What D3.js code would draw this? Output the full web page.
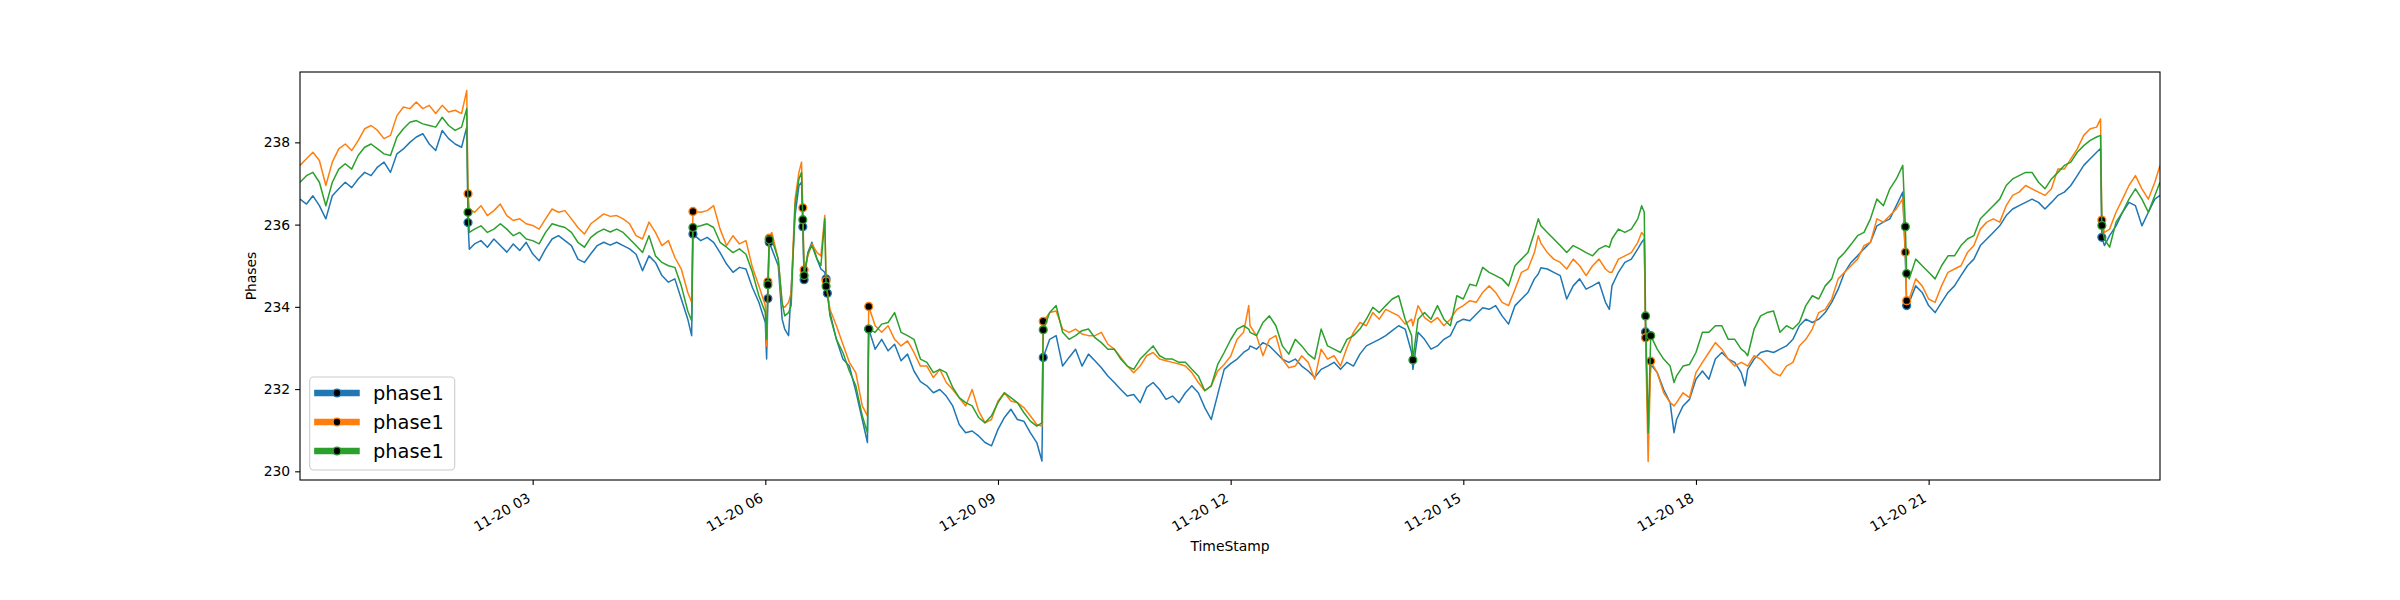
<!DOCTYPE html>
<html>
<head>
<meta charset="utf-8">
<script src="https://cdn.jsdelivr.net/npm/d3@7"></script>
<style>
  html, body { margin: 0; padding: 0; background: #fff; }
  svg { display: block; font-family: "DejaVu Sans", sans-serif; }
</style>
</head>
<body>
<svg id="chart" width="2400" height="600"></svg>
<script>
// minutes after 11-20 00:00, shared by the three series
const minutes = [
  0,5,10,15,20,25,30,35,40,45,50,55,60,65,70,75,80,85,90,95,100,105,110,115,120,125,129,130,131,135,140,145,150,155,160,165,170,175,180,185,190,195,200,205,210,215,220,225,230,235,240,
  245,250,255,260,265,270,275,280,285,290,295,300,303,304,310,315,320,325,330,335,340,345,350,355,360,361,362,363,365,370,373,375,378,380,383,386,388,389,390,393,396,400,403,406,407,408,410,415,420,425,430,435,439,440,445,450,455,460,465,470,475,480,
  485,490,495,500,505,510,515,520,525,530,535,540,545,550,555,560,565,570,574,575,580,585,590,595,600,605,610,615,620,625,630,635,640,645,650,655,660,665,670,675,680,685,690,695,700,705,710,715,720,
  725,730,734,735,740,745,750,755,760,765,770,775,780,785,790,795,800,805,810,815,820,825,830,835,840,845,850,855,860,861,865,870,875,880,885,890,895,900,905,910,915,920,925,930,935,940,945,950,955,958,960,
  965,970,975,980,985,990,995,1000,1005,1010,1013,1015,1020,1025,1030,1035,1038,1040,1041,1043,1045,1050,1055,1060,1063,1065,1070,1075,1080,1085,1090,1095,1100,1105,1110,1115,1118,1120,1125,1130,1135,1140,1145,1150,1155,1160,1165,1170,1175,1180,1185,1190,1195,1200,
  1205,1210,1215,1220,1225,1230,1235,1240,1242,1243,1245,1250,1255,1260,1265,1270,1275,1280,1285,1290,1295,1300,1305,1310,1315,1320,1325,1330,1335,1340,1345,1350,1355,1360,1365,1370,1375,1380,1385,1390,1393,1394,1396,1400,1405,1410,1415,1420,1425,1430,1435,1439
];

const phaseBlue = [
  236.62,236.50,236.70,236.46,236.14,236.70,236.87,237.03,236.90,237.11,237.27,237.19,237.40,237.52,237.27,237.72,237.84,238.00,238.13,238.21,237.96,237.80,238.29,238.09,237.96,237.88,238.37,236.05,235.40,235.53,235.61,235.45,235.65,235.49,235.33,235.53,235.37,235.57,235.29,235.12,235.41,235.65,235.73,235.61,235.49,235.16,235.08,235.29,235.49,235.57,235.50,
  235.57,235.49,235.41,235.28,234.88,235.24,235.08,234.76,234.60,234.68,234.19,233.70,233.30,235.77,235.61,235.69,235.57,235.32,235.04,234.84,234.96,234.92,234.47,234.11,233.62,232.73,234.20,235.57,235.41,235.00,233.70,233.46,233.30,234.43,236.22,236.95,237.03,235.95,234.66,235.32,235.57,235.16,234.92,234.84,234.68,234.33,233.86,233.21,232.73,232.56,231.95,231.26,230.70,233.46,232.97,233.21,232.93,233.09,232.69,232.85,232.44,232.18,
  232.08,231.91,231.99,231.83,231.59,231.14,230.94,230.98,230.86,230.70,230.62,231.02,231.31,231.51,231.26,231.22,230.94,230.70,230.25,232.77,233.21,233.30,232.56,232.77,232.97,232.56,232.85,232.69,232.52,232.32,232.16,231.99,231.83,231.87,231.67,232.04,232.16,231.99,231.75,231.83,231.67,231.91,232.08,231.91,231.55,231.26,231.87,232.48,232.62,
  232.73,232.89,232.97,233.05,232.97,233.13,233.05,232.89,232.73,232.65,232.73,232.56,232.44,232.28,232.48,232.56,232.65,232.48,232.65,232.56,232.85,233.05,233.13,233.21,233.30,233.42,233.54,233.46,232.89,232.48,233.38,233.21,232.97,233.05,233.21,233.30,233.62,233.70,233.66,233.82,233.98,233.94,234.03,233.78,233.58,234.03,234.19,234.35,234.68,234.80,234.95,
  234.92,234.84,234.76,234.19,234.51,234.68,234.43,234.51,234.60,234.11,233.94,234.51,234.84,235.08,235.16,235.41,235.57,235.65,233.39,231.10,232.60,232.40,231.99,231.67,230.94,231.26,231.59,231.75,232.24,232.44,232.24,232.73,232.89,232.73,232.65,232.40,232.08,232.48,232.73,232.89,232.93,232.89,232.97,233.05,233.21,233.54,233.70,233.62,233.70,233.86,234.11,234.43,234.84,235.08,
  235.24,235.41,235.57,235.97,236.06,236.14,236.46,236.79,235.16,234.03,234.11,234.51,234.35,234.03,233.86,234.11,234.35,234.51,234.76,235.00,235.16,235.49,235.65,235.81,235.97,236.22,236.38,236.46,236.54,236.62,236.54,236.38,236.54,236.71,236.79,236.95,237.19,237.44,237.60,237.76,237.85,235.69,235.49,235.73,235.97,236.30,236.54,236.46,235.97,236.30,236.62,236.71
];

const phaseOrange = [
  237.44,237.60,237.76,237.56,236.95,237.52,237.84,237.96,237.80,238.04,238.33,238.41,238.29,238.09,238.17,238.65,238.86,238.82,238.98,238.82,238.90,238.70,238.90,238.74,238.78,238.70,239.26,236.75,236.38,236.30,236.46,236.22,236.34,236.50,236.22,236.10,236.14,236.02,235.98,235.89,236.14,236.38,236.30,236.34,236.14,235.93,235.77,236.02,236.14,236.26,236.20,
  236.22,236.14,236.02,235.73,235.65,236.06,235.81,235.49,235.61,235.20,234.92,234.35,234.11,236.32,236.30,236.34,236.46,235.89,235.49,235.73,235.53,235.61,234.96,234.51,234.03,233.05,234.61,235.67,235.81,235.16,234.03,233.99,234.11,234.35,236.62,237.27,237.52,236.41,234.90,235.24,235.53,235.32,235.24,236.22,234.63,234.35,233.94,233.54,233.09,232.65,232.40,231.59,231.35,234.01,233.54,233.38,233.54,233.21,233.05,233.17,232.89,232.56,
  232.56,232.28,232.48,232.16,231.99,231.79,231.59,231.99,231.47,231.18,231.26,231.71,231.91,231.71,231.67,231.55,231.35,231.14,231.10,233.65,233.86,233.90,233.46,233.38,233.46,233.34,233.30,233.30,233.38,233.09,232.97,232.77,232.56,232.40,232.56,232.81,232.89,232.73,232.69,232.65,232.61,232.56,232.40,232.16,231.96,232.08,232.44,232.60,232.80,
  233.21,233.38,234.03,233.54,233.30,232.81,233.21,233.30,232.73,232.52,232.56,232.81,232.65,232.24,232.97,232.73,232.81,232.56,233.01,233.38,233.62,233.54,233.86,233.70,233.94,233.86,233.78,233.58,233.70,233.54,234.03,233.74,233.62,233.74,233.54,233.70,233.94,234.03,234.15,234.11,234.35,234.51,234.35,234.11,234.03,234.43,234.84,234.92,235.32,235.73,235.55,
  235.32,235.16,235.08,234.92,235.16,235.00,234.76,235.00,235.16,234.92,234.84,234.84,235.16,235.24,235.32,235.57,235.81,235.73,233.25,230.24,232.68,232.40,231.91,231.67,231.59,231.67,231.91,231.79,232.40,232.65,232.89,233.13,232.97,232.73,232.56,232.65,232.60,232.56,232.81,232.73,232.56,232.40,232.32,232.56,232.65,233.05,233.21,233.46,233.86,233.94,234.19,234.68,234.84,235.00,
  235.16,235.49,235.57,236.14,236.06,236.22,236.38,236.63,235.33,234.15,234.19,234.68,234.51,234.19,234.11,234.51,234.84,234.92,235.00,235.32,235.49,235.89,236.06,236.14,236.06,236.46,236.71,236.79,236.95,236.87,236.79,236.71,236.87,237.35,237.35,237.60,237.84,238.17,238.33,238.37,238.57,236.11,235.81,235.89,236.30,236.62,236.95,237.19,236.87,236.62,237.03,237.44
];

const phaseGreen = [
  237.03,237.19,237.27,237.03,236.46,237.03,237.35,237.48,237.35,237.68,237.88,237.96,237.84,237.72,237.68,238.13,238.33,238.49,238.53,238.45,238.41,238.37,238.61,238.41,238.29,238.37,238.82,236.30,235.81,235.89,235.97,235.81,235.89,236.02,235.89,235.73,235.81,235.65,235.61,235.53,235.81,236.02,235.97,235.93,235.81,235.57,235.45,235.69,235.81,235.89,235.82,
  235.89,235.81,235.65,235.49,235.32,235.73,235.24,235.08,235.00,234.96,234.51,233.90,233.66,235.93,235.97,236.02,235.93,235.57,235.45,235.32,235.41,235.28,234.84,234.27,233.86,233.21,234.54,235.63,235.65,235.16,234.11,233.78,233.86,234.03,236.46,237.11,237.27,236.12,234.76,235.32,235.49,235.16,235.00,236.14,234.50,234.35,233.78,233.21,232.89,232.44,232.08,231.35,230.94,233.46,233.38,233.58,233.62,233.86,233.38,233.30,233.21,232.73,
  232.65,232.40,232.48,232.40,232.04,231.79,231.67,231.59,231.31,231.18,231.35,231.67,231.91,231.79,231.67,231.43,231.22,231.10,231.18,233.44,233.86,234.03,233.38,233.21,233.30,233.42,233.46,233.25,233.13,232.97,232.97,232.73,232.56,232.48,232.73,232.89,233.05,232.81,232.73,232.73,232.65,232.65,232.48,232.32,231.96,232.08,232.60,232.89,233.20,
  233.46,233.54,233.46,233.38,233.30,233.62,233.78,233.54,233.05,232.85,233.21,233.05,232.85,232.73,233.46,233.05,232.97,232.89,233.21,233.30,233.46,233.70,233.99,233.86,234.03,234.19,234.27,233.70,233.30,232.71,233.70,233.86,233.70,234.03,233.70,233.54,234.27,234.19,234.55,234.51,234.96,234.84,234.76,234.68,234.51,235.00,235.16,235.32,235.81,236.14,235.97,
  235.81,235.65,235.49,235.32,235.49,235.41,235.32,235.24,235.41,235.49,235.45,235.65,235.89,235.81,235.89,236.14,236.46,236.30,233.78,230.94,233.30,232.97,232.73,232.56,232.16,232.32,232.56,232.60,232.89,233.38,233.38,233.54,233.54,233.21,233.21,232.97,232.90,232.81,233.46,233.78,233.86,233.90,233.38,233.54,233.46,233.62,234.03,234.27,234.19,234.51,234.68,235.16,235.32,235.52,
  235.73,235.81,236.14,236.62,236.46,236.87,237.11,237.44,235.95,234.81,234.68,235.16,235.00,234.84,234.68,235.00,235.24,235.24,235.49,235.65,235.73,236.14,236.30,236.46,236.62,236.95,237.11,237.19,237.27,237.27,237.03,236.87,237.11,237.27,237.44,237.52,237.76,237.92,238.05,238.13,238.17,235.98,235.65,235.45,236.06,236.30,236.62,236.87,236.62,236.30,236.71,237.03
];

// minutes of the points drawn with a marker, per series
const marksBlue = [130, 304, 362, 363, 389, 390, 407, 408, 440, 575, 1041, 1243, 1394];
const marksOrange = [130, 304, 362, 363, 389, 390, 407, 440, 575, 1041, 1045, 1242, 1243, 1394];
const marksGreen = [130, 304, 362, 363, 389, 390, 407, 440, 575, 861, 1041, 1045, 1242, 1243, 1394];

const seriesNames = ['phase1', 'phase1', 'phase1'];
const yTicks = [230, 232, 234, 236, 238];
const xTickHours = [3, 6, 9, 12, 15, 18, 21];

const svg = d3.select('#chart');
const plotLeft = 300, plotRight = 2160, plotTop = 72, plotBottom = 480;
const base = new Date(2019, 10, 20, 0, 0, 0);
const toDate = m => new Date(base.getTime() + m * 60000);

const series = [
  {name: seriesNames[0], color: '#1f77b4', values: phaseBlue, marks: marksBlue},
  {name: seriesNames[1], color: '#ff7f0e', values: phaseOrange, marks: marksOrange},
  {name: seriesNames[2], color: '#2ca02c', values: phaseGreen, marks: marksGreen}
];

// y limits like matplotlib autoscale (5% margin)
const ext = d3.extent(phaseBlue.concat(phaseOrange, phaseGreen));
const pad = (ext[1] - ext[0]) * 0.05;
const y = d3.scaleLinear().domain([ext[0] - pad, ext[1] + pad]).range([plotBottom, plotTop]);
const x = d3.scaleTime()
  .domain([toDate(minutes[0]), toDate(minutes[minutes.length - 1])])
  .range([plotLeft, plotRight]);

svg.append('defs').append('clipPath').attr('id', 'plot-clip')
  .append('rect').attr('x', plotLeft).attr('y', plotTop)
  .attr('width', plotRight - plotLeft).attr('height', plotBottom - plotTop);

const plot = svg.append('g');

series.forEach(s => {
  const n = Math.min(minutes.length, s.values.length);
  const idx = d3.range(n);
  const line = d3.line()
    .x(i => x(toDate(minutes[i])))
    .y(i => y(s.values[i]));

  plot.append('path')
    .datum(idx)
    .attr('clip-path', 'url(#plot-clip)')
    .attr('fill', 'none')
    .attr('stroke', s.color)
    .attr('stroke-width', 1.5)
    .attr('stroke-linejoin', 'round')
    .attr('d', line);

  const pts = s.marks.map(m => minutes.indexOf(m)).filter(i => i >= 0 && i < n);
  plot.selectAll(null)
    .data(pts)
    .enter()
    .append('circle')
      .attr('cx', i => x(toDate(minutes[i])))
      .attr('cy', i => y(s.values[i]))
      .attr('r', 3.9)
      .attr('fill', '#000')
      .attr('stroke', s.color)
      .attr('stroke-width', 1.4);
});

// frame
svg.append('rect')
  .attr('x', plotLeft).attr('y', plotTop)
  .attr('width', plotRight - plotLeft).attr('height', plotBottom - plotTop)
  .attr('fill', 'none').attr('stroke', '#000').attr('stroke-width', 1.1);

// x axis
const xAxis = d3.axisBottom(x)
  .tickValues(xTickHours.map(h => toDate(h * 60)))
  .tickFormat(d3.timeFormat('%m-%d %H'))
  .tickSizeInner(4.9).tickSizeOuter(0).tickPadding(4.9);

const gx = svg.append('g').attr('transform', `translate(0,${plotBottom})`).call(xAxis);
gx.select('.domain').remove();
gx.selectAll('.tick line').attr('stroke', '#000').attr('stroke-width', 1.1);
gx.selectAll('.tick text')
  .attr('font-family', '"DejaVu Sans", sans-serif')
  .attr('font-size', '13.9px')
  .attr('fill', '#000')
  .attr('text-anchor', 'end')
  .attr('dy', null)
  .attr('x', 0)
  .attr('y', -3.3)
  .attr('transform', 'translate(0,23.6) rotate(-30)');

// y axis
const yAxis = d3.axisLeft(y)
  .tickValues(yTicks)
  .tickFormat(d3.format('d'))
  .tickSizeInner(4.9).tickSizeOuter(0).tickPadding(4.9);

const gy = svg.append('g').attr('transform', `translate(${plotLeft},0)`).call(yAxis);
gy.select('.domain').remove();
gy.selectAll('.tick line').attr('stroke', '#000').attr('stroke-width', 1.1);
gy.selectAll('.tick text')
  .attr('font-family', '"DejaVu Sans", sans-serif')
  .attr('font-size', '13.9px')
  .attr('fill', '#000');

// axis labels
svg.append('text')
  .attr('x', (plotLeft + plotRight) / 2).attr('y', 550.5)
  .attr('text-anchor', 'middle')
  .attr('font-size', '13.9px')
  .text('TimeStamp');

svg.append('text')
  .attr('transform', `translate(251,${(plotTop + plotBottom) / 2}) rotate(-90)`)
  .attr('dy', '0.35em')
  .attr('text-anchor', 'middle')
  .attr('font-size', '13.9px')
  .text('Phases');

// legend, lower left
const legend = svg.append('g');
legend.append('rect')
  .attr('x', 309.7).attr('y', 377)
  .attr('width', 145).attr('height', 93)
  .attr('rx', 4).attr('ry', 4)
  .attr('fill', '#fff').attr('fill-opacity', 0.8)
  .attr('stroke', '#cccccc').attr('stroke-width', 1.1);

const rows = legend.selectAll('g.row')
  .data(series)
  .enter()
  .append('g')
    .attr('class', 'row')
    .attr('transform', (d, i) => `translate(0,${393 + i * 29})`);

rows.append('line')
  .attr('x1', 317.5).attr('x2', 356.4)
  .attr('stroke', d => d.color)
  .attr('stroke-width', 6.7)
  .attr('stroke-linecap', 'square');

rows.append('circle')
  .attr('cx', 337).attr('cy', 0).attr('r', 3.9)
  .attr('fill', '#000')
  .attr('stroke', d => d.color)
  .attr('stroke-width', 1.4);

rows.append('text')
  .attr('x', 373).attr('dy', '0.36em')
  .attr('font-size', '19.4px')
  .attr('fill', '#000')
  .text(d => d.name);
</script>
</body>
</html>
